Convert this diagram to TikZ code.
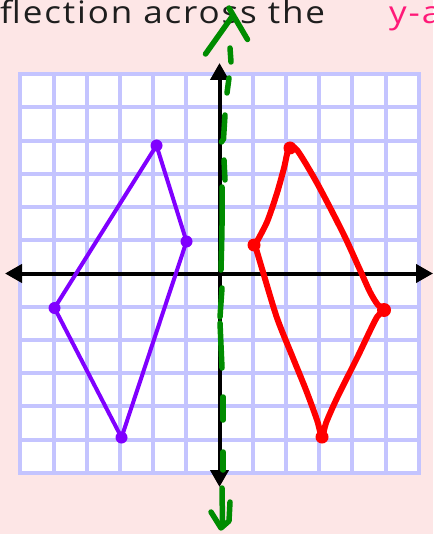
\documentclass[tikz,border=0pt]{standalone}
\usepackage{fontspec}
\setmainfont{Open Sans}
\newfontfamily\titlefont[FakeStretch=1.13,LetterSpace=6]{Open Sans}
\usetikzlibrary{arrows.meta}
\definecolor{bgpink}{RGB}{253,230,230}
\definecolor{gridblue}{RGB}{196,196,255}
\definecolor{purp}{RGB}{128,0,255}
\definecolor{redc}{RGB}{255,0,0}
\definecolor{greenc}{RGB}{0,140,0}
\definecolor{titlepink}{RGB}{255,25,120}
\definecolor{titlegray}{RGB}{30,30,30}
\tikzset{
  gridline/.style={line width=4pt, gridblue},
  axisline/.style={line width=4pt, black, {Triangle[length=17pt,width=18pt]}-{Triangle[length=17pt,width=18pt]}},
  purpline/.style={line width=4pt, purp, line join=round},
  purpdot/.style={circle, fill=purp, inner sep=0pt, minimum size=12pt},
  redline/.style={line width=6pt, redc, line join=round, line cap=round},
  reddot/.style={circle, fill=redc, inner sep=0pt, minimum size=13pt},
  greenline/.style={line width=5.5pt, greenc, line cap=round, line join=round},
  titletext/.style={anchor=base west, inner sep=0pt, font=\titlefont\fontsize{31}{36}\selectfont}
}
\begin{document}
\begin{tikzpicture}[x=1pt,y=-1pt]
\useasboundingbox (0,0) rectangle (433,534);
\fill[bgpink] (0,0) rectangle (433,534);
% title
\node[titletext, text=titlegray] (title) at (0,23.5) {flection across the};
\node[titletext, text=titlepink] (yaxis) at (389,23.5) {y-a};
% grid
\fill[white] (20.3,74.3) rectangle (418.7,472.7);
\foreach \i in {0,...,12}{
  \draw[gridline] ({20.3+33.2*\i},72.3) -- ({20.3+33.2*\i},474.7);
  \draw[gridline] (18.3,{74.3+33.2*\i}) -- (420.7,{74.3+33.2*\i});
}
% axes
\coordinate (xl) at (5,273.5);
\coordinate (xr) at (433,273.5);
\coordinate (yt) at (219.5,63);
\coordinate (yb) at (219.5,487);
\draw[axisline] (xl) -- (xr);
\draw[axisline] (yt) -- (yb);
% purple quadrilateral
\node[purpdot] (pa) at (156.5,145.5) {};
\node[purpdot] (pb) at (186.5,241.5) {};
\node[purpdot] (pc) at (121.5,437.5) {};
\node[purpdot] (pd) at (54.5,308) {};
\draw[purpline] (pa.center) -- (pb.center) -- (pc.center) -- (pd.center) -- cycle;
% red quadrilateral (hand drawn)
\draw[redline] plot[smooth, tension=0.45] coordinates {
  (255,245) (267,222) (277,193) (284,168) (289,148) (297,150) (317,183) (343,233) (360,270) (370,292) (378,305) (386,310)
  (377,317) (357,358) (337,398) (326,423) (322,437) (317,420) (306,390) (293,358) (277,318) (263,272) (255,245)};
\node[reddot] (ra) at (290,148) {};
\node[reddot] (rb) at (254,245) {};
\node[reddot, minimum size=14pt] (rc) at (384,310) {};
\node[reddot] (rd) at (322,437) {};
% green dashed mirror line
\draw[greenline] (205.5,54) -- (232.5,16);
\draw[greenline] (229,8) -- (247.5,39.5);
\draw[greenline] (230,48) -- (231,62);
\draw[greenline] (229,78) -- (227,93);
\draw[greenline] (225,115) -- (223.5,139) -- (221.5,142);
\draw[greenline] (224,160) -- (225,180);
\draw[greenline] (222,187) .. controls (222.5,220) and (221.5,250) .. (221,270);
\draw[greenline] (222,288) -- (220,317);
\draw[greenline] (220,323) -- (222,368);
\draw[greenline] (223,397) -- (223,420);
\draw[greenline] (223,452) -- (223,470);
\draw[greenline] (222,488) -- (222.5,524);
\draw[greenline] (211,512) -- (221,528) -- (229,521) -- (230,502);
\end{tikzpicture}
\end{document}
